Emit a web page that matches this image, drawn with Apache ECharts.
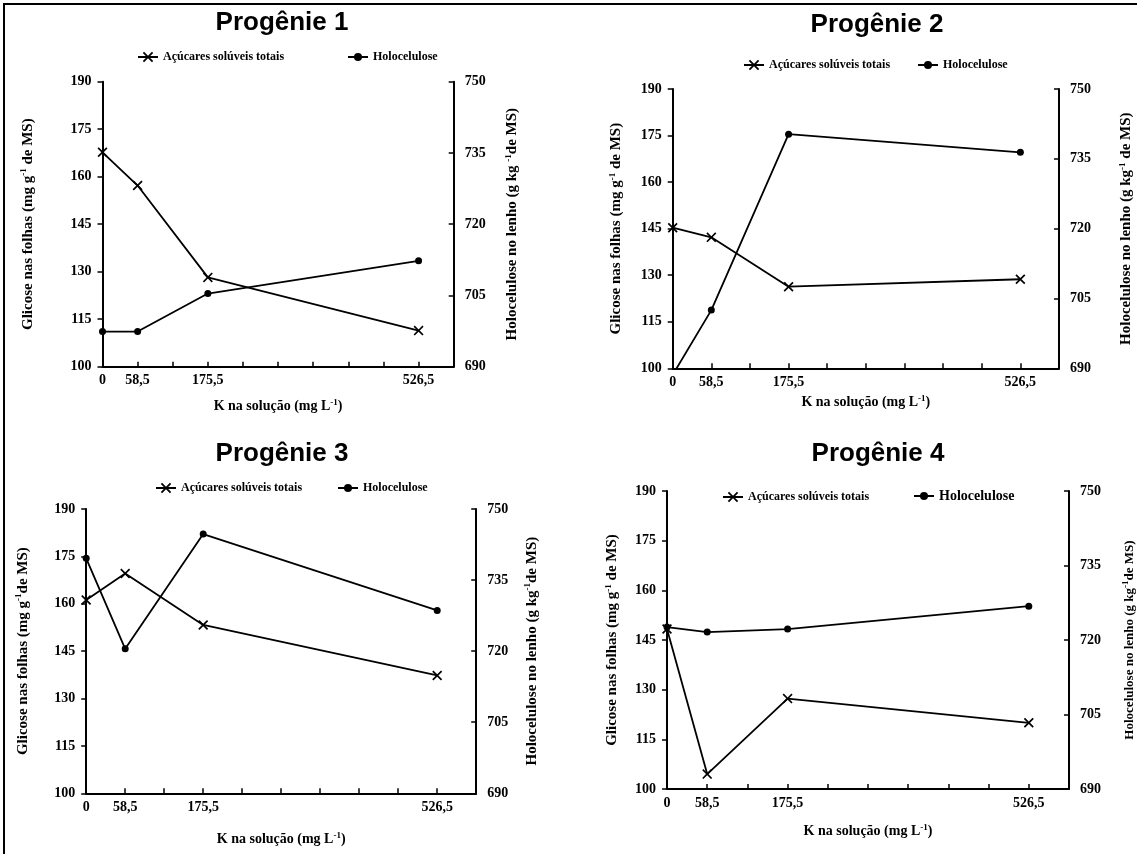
<!DOCTYPE html>
<html><head><meta charset="utf-8">
<script src="https://cdn.jsdelivr.net/npm/echarts@6/dist/echarts.min.js"></script>
<style>html,body{margin:0;padding:0;background:#fff}#c{width:1137px;height:854px}</style>
</head><body><div id="c"></div>
<script>
// ---------- data ----------
const kValues = [0, 58.5, 175.5, 526.5];
const kTickLabels = ['0', '58,5', '175,5', '526,5'];
const kAxisTicks = [0, 58.5, 117, 175.5, 234, 292.5, 351, 409.5, 468, 526.5, 585];
const leftAxisTicks = [100, 115, 130, 145, 160, 175, 190];
const rightAxisTicks = [690, 705, 720, 735, 750];
const panelTitles = ['Progênie 1', 'Progênie 2', 'Progênie 3', 'Progênie 4'];
const seriesNames = ['Açúcares solúveis totais', 'Holocelulose'];

const acucaresP1 = [167.7, 157.2, 128.2, 111.4];
const holoP1     = [697.4, 697.4, 705.4, 712.3];
const acucaresP2 = [145.3, 142.2, 126.3, 128.7];
const holoP2     = [688.6, 702.5, 740.3, 736.4];
const acucaresP3 = [161.2, 169.6, 153.3, 137.3];
const holoP3     = [739.6, 720.5, 744.7, 728.6];
const acucaresP4 = [148.3, 104.5, 127.3, 120.0];
const holoP4     = [722.6, 721.6, 722.2, 726.8];

const leftNames = [
  'Glicose nas folhas (mg g{sup|-1} de MS)',
  'Glicose nas folhas (mg g{sup|-1} de MS)',
  'Glicose nas folhas (mg g{sup|-1}de MS)',
  'Glicose nas folhas (mg g{sup|-1} de MS)'
];
const rightNames = [
  'Holocelulose no lenho (g kg {sup|-1}de MS)',
  'Holocelulose no lenho (g kg{sup|-1} de MS)',
  'Holocelulose no lenho (g kg{sup|-1}de MS)',
  'Holocelulose no lenho (g kg{sup|-1}de MS)'
];
const xName = 'K na solução (mg L{sup|-1})';

// ---------- layout ----------
const acucares = [acucaresP1, acucaresP2, acucaresP3, acucaresP4];
const holo = [holoP1, holoP2, holoP3, holoP4];
const layouts = [
  {grid:{left:102.5, top:81.7, width:351.2, height:285}, title:[277, 5], leg:[[137,51,12],[347,51,12]], lg:66, rg:50, xg:31, rfs:15},
  {grid:{left:672.7, top:89, width:386.3, height:279.3}, title:[872, 7], leg:[[743,59,12],[917,59,12]], lg:48, rg:59, xg:26, rfs:15},
  {grid:{left:86.2, top:509, width:390, height:284.3}, title:[277, 436], leg:[[155,482,12],[337,482,12]], lg:55, rg:47, xg:38, rfs:15},
  {grid:{left:667, top:491, width:406, height:298}, title:[873, 436], leg:[[722,491,12],[913,489,14]], lg:46, rg:52, xg:34, rfs:13}
];

const serif = 'Liberation Serif, "Times New Roman", serif';
const xMarker = 'path://M0,1.2L1.2,0L5,3.8L8.8,0L10,1.2L6.2,5L10,8.8L8.8,10L5,6.2L1.2,10L0,8.8L3.8,5Z';
const supStyle = {fontFamily: serif, fontWeight: 'bold', fontSize: 9, color: '#000', padding: [0, 0, 8, 0]};
function nameStyle(fs) {
  return {fontFamily: serif, fontWeight: 'bold', fontSize: fs, color: '#000', rich: {sup: supStyle}};
}
const labelStyle = {color: '#000', fontFamily: serif, fontWeight: 'bold', fontSize: 14};

const option = {animation: false, backgroundColor: '#fff', title: [], grid: [], xAxis: [], yAxis: [], series: [], legend: [],
  graphic: [
    {type:'line', shape:{x1:3, y1:4, x2:1137, y2:4}, style:{stroke:'#000', lineWidth:2}},
    {type:'line', shape:{x1:4, y1:3, x2:4, y2:854}, style:{stroke:'#000', lineWidth:2}}
  ]};

layouts.forEach((L, i) => {
  option.title.push({text: panelTitles[i], left: L.title[0], top: L.title[1], textAlign: 'center',
    textStyle: {fontFamily: 'Liberation Sans, Arial, sans-serif', fontWeight: 'bold', fontSize: 26, color: '#000'}});
  option.grid.push(Object.assign({containLabel: false}, L.grid));
  option.xAxis.push({type: 'value', gridIndex: i, min: kAxisTicks[0], max: kAxisTicks[kAxisTicks.length - 1],
    interval: kAxisTicks[1] - kAxisTicks[0],
    axisLine: {onZero: false, lineStyle: {color: '#000', width: 2}},
    axisTick: {show: true, inside: true, length: 5, lineStyle: {color: '#000', width: 1.5}},
    axisLabel: Object.assign({margin: 7, formatter: v => {
      const idx = kValues.findIndex(k => Math.abs(k - v) < 1e-6);
      return idx >= 0 ? kTickLabels[idx] : '';
    }}, labelStyle),
    splitLine: {show: false},
    name: xName, nameLocation: 'middle', nameGap: L.xg, nameTextStyle: nameStyle(14)});
  option.yAxis.push({type: 'value', gridIndex: i, position: 'left',
    min: leftAxisTicks[0], max: leftAxisTicks[leftAxisTicks.length - 1], interval: leftAxisTicks[1] - leftAxisTicks[0],
    axisLine: {show: true, onZero: false, lineStyle: {color: '#000', width: 2}},
    axisTick: {show: true, inside: false, length: 5, lineStyle: {color: '#000', width: 1.5}},
    axisLabel: Object.assign({margin: 11}, labelStyle),
    splitLine: {show: false},
    name: leftNames[i], nameLocation: 'middle', nameRotate: 90, nameGap: L.lg, nameTextStyle: nameStyle(15)});
  option.yAxis.push({type: 'value', gridIndex: i, position: 'right',
    min: rightAxisTicks[0], max: rightAxisTicks[rightAxisTicks.length - 1], interval: rightAxisTicks[1] - rightAxisTicks[0],
    axisLine: {show: true, onZero: false, lineStyle: {color: '#000', width: 2}},
    axisTick: {show: true, inside: true, length: 5, lineStyle: {color: '#000', width: 1.5}},
    axisLabel: Object.assign({margin: 11}, labelStyle),
    splitLine: {show: false},
    name: rightNames[i], nameLocation: 'middle', nameRotate: 90, nameGap: L.rg, nameTextStyle: nameStyle(L.rfs)});
  option.series.push({type: 'line', name: seriesNames[0], xAxisIndex: i, yAxisIndex: 2 * i,
    data: kValues.map((k, j) => [k, acucares[i][j]]), symbol: xMarker, symbolSize: 10, clip: true,
    lineStyle: {color: '#000', width: 1.8}, itemStyle: {color: '#000'}, z: 3});
  option.series.push({type: 'line', name: seriesNames[1], xAxisIndex: i, yAxisIndex: 2 * i + 1,
    data: kValues.map((k, j) => [k, holo[i][j]]), symbol: 'circle', symbolSize: 7, clip: true,
    lineStyle: {color: '#000', width: 1.8}, itemStyle: {color: '#000'}, z: 4});
  L.leg.forEach((lg, j) => {
    option.legend.push({data: [seriesNames[j]], left: lg[0], top: lg[1], selectedMode: false,
      itemWidth: 20, itemHeight: j === 0 ? 13 : 10, padding: 0,
      textStyle: {fontFamily: serif, fontWeight: 'bold', fontSize: lg[2], color: '#000'}});
  });
});

const chart = echarts.init(document.getElementById('c'));
chart.setOption(option);
</script>
</body></html>
